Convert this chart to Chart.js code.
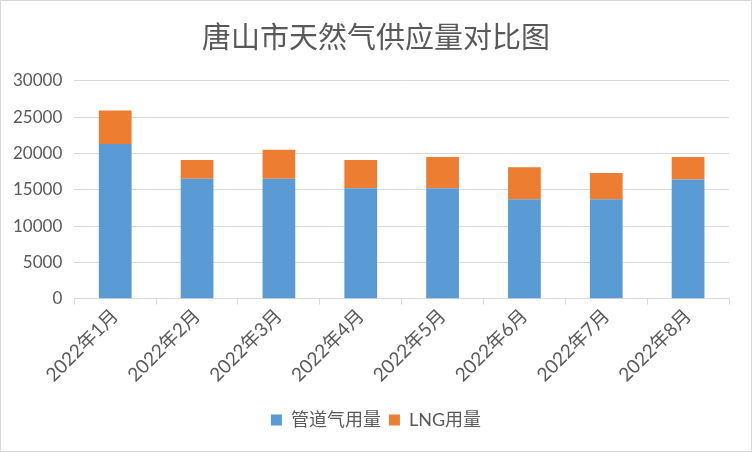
<!DOCTYPE html>
<html>
<head>
<meta charset="utf-8">
<script src="https://cdn.jsdelivr.net/npm/chart.js@4/dist/chart.umd.min.js"></script>
<style>
  html, body { margin: 0; padding: 0; background: #fff; }
  #wrap { width: 750px; height: 450px; border: 1px solid #d9d9d9; position: relative; }
</style>
</head>
<body>
<div id="wrap"><canvas id="gasChart"></canvas></div>
<script>
const months = ["2022年1月", "2022年2月", "2022年3月", "2022年4月", "2022年5月", "2022年6月", "2022年7月", "2022年8月"];
const pipelineGas = [21300, 16500, 16500, 15200, 15200, 13700, 13700, 16400];
const lngGas = [4600, 2600, 4000, 3900, 4300, 4400, 3600, 3100];

const fontFamily = "Lato, 'Noto Sans CJK SC', sans-serif";
const textColor = "#595959";

const ctx = document.getElementById("gasChart").getContext("2d");
const gasChart = new Chart(ctx, {
  type: "bar",
  data: {
    labels: months,
    datasets: [
      {
        label: "管道气用量",
        data: pipelineGas,
        backgroundColor: "#5b9bd5",
        barPercentage: 0.4,
        categoryPercentage: 1,
      },
      {
        label: "LNG用量",
        data: lngGas,
        backgroundColor: "#ed7d31",
        barPercentage: 0.4,
        categoryPercentage: 1,
      },
    ],
  },
  options: {
    responsive: true,
    maintainAspectRatio: false,
    animation: false,
    layout: {
      padding: { left: 0, right: 0, top: 8, bottom: 12 },
    },
    plugins: {
      title: {
        display: true,
        text: "唐山市天然气供应量对比图",
        color: textColor,
        font: { family: "'Noto Sans CJK SC', sans-serif", size: 29, weight: "normal" },
        padding: { top: 11, bottom: 26 },
      },
      legend: {
        position: "bottom",
        title: {
          display: true,
          text: " ",
          font: { size: 2 },
          padding: { top: 0, bottom: 14 },
        },
        labels: {
          color: textColor,
          font: { family: fontFamily, size: 18 },
          boxWidth: 11,
          boxHeight: 11,
          padding: 8,
        },
      },
      tooltip: { enabled: false },
    },
    scales: {
      x: {
        stacked: true,
        offset: true,
        grid: {
          display: true,
          offset: true,
          drawOnChartArea: false,
          drawTicks: true,
          tickLength: 6,
          color: "#d9d9d9",
        },
        border: { color: "#d9d9d9" },
        ticks: {
          color: textColor,
          font: { family: fontFamily, size: 19 },
          maxRotation: 45,
          minRotation: 45,
          padding: 0,
        },
      },
      y: {
        stacked: true,
        min: 0,
        max: 30000,
        grid: {
          color: "#d9d9d9",
          drawTicks: false,
        },
        border: { display: false },
        ticks: {
          stepSize: 5000,
          color: textColor,
          font: { family: fontFamily, size: 17 },
          padding: 12,
          callback: (v) => String(v),
        },
      },
      // empty right axis, only keeps a margin so the title stays centred
      yRight: {
        position: "right",
        grid: { display: false },
        border: { display: false },
        ticks: { display: false },
        afterFit: (scale) => {
          scale.width = 22;
        },
      },
    },
  },
});
</script>
</body>
</html>
